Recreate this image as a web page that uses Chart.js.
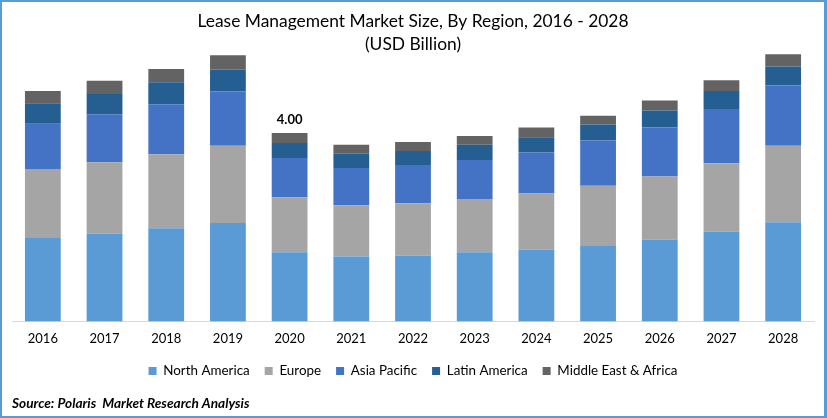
<!DOCTYPE html>
<html>
<head>
<meta charset="utf-8">
<script src="https://cdn.jsdelivr.net/npm/chart.js@4"></script>
<style>
html, body { margin: 0; padding: 0; background: #fff; }
#wrap { position: relative; width: 827px; height: 418px; overflow: hidden; }
#frame { position: absolute; inset: 0; border: solid #5b9bd5; border-width: 2px 3px 2px 2px; box-sizing: border-box; pointer-events: none; }
</style>
</head>
<body>
<div id="wrap">
<canvas id="myChart" width="827" height="418"></canvas>
<div id="frame"></div>
</div>
<script>
var years = ['2016','2017','2018','2019','2020','2021','2022','2023','2024','2025','2026','2027','2028'];
var northAmerica = [1.79,1.87,1.98,2.09,1.47,1.38,1.40,1.47,1.53,1.62,1.74,1.91,2.11];
var europe = [1.45,1.51,1.57,1.64,1.17,1.09,1.11,1.13,1.19,1.26,1.34,1.45,1.62];
var asiaPacific = [0.96,1.02,1.06,1.15,0.83,0.79,0.81,0.83,0.87,0.96,1.04,1.15,1.28];
var latinAmerica = [0.43,0.43,0.47,0.47,0.32,0.30,0.30,0.32,0.32,0.34,0.36,0.38,0.40];
var middleEast = [0.26,0.28,0.28,0.30,0.21,0.19,0.19,0.19,0.21,0.19,0.21,0.23,0.26];
var labelYear = '2020';
var labelText = '4.00';

var fontName = 'Lato, Carlito, sans-serif';

// the one value label above the 2020 bar
var totalLabel = {
    id: 'totalLabel',
    afterDatasetsDraw: function(chart) {
        var ctx = chart.ctx;
        var idx = years.indexOf(labelYear);
        var bar = chart.getDatasetMeta(4).data[idx];
        ctx.save();
        ctx.font = 'bold 13px ' + fontName;
        ctx.fillStyle = '#000';
        ctx.textAlign = 'center';
        ctx.textBaseline = 'bottom';
        ctx.fillText(labelText, bar.x, bar.y - 7);
        ctx.restore();
    }
};

function series(label, values, color) {
    return { label: label, data: values, backgroundColor: color, barPercentage: 0.58, categoryPercentage: 1 };
}

var chart = new Chart(document.getElementById('myChart').getContext('2d'), {
    type: 'bar',
    plugins: [totalLabel],
    data: {
        labels: years,
        datasets: [
            series('North America', northAmerica, '#5b9bd5'),
            series('Europe', europe, '#a5a5a5'),
            series('Asia Pacific', asiaPacific, '#4472c4'),
            series('Latin America', latinAmerica, '#255e91'),
            series('Middle East & Africa', middleEast, '#636363')
        ]
    },
    options: {
        responsive: false,
        animation: false,
        layout: { padding: { left: 12, right: 13, top: 0, bottom: 6 } },
        scales: {
            x: {
                stacked: true,
                grid: { display: false, drawTicks: false },
                border: { color: '#d9d9d9', width: 1 },
                ticks: { color: '#000', font: { family: fontName, size: 13 }, padding: 9, maxRotation: 0 },
                // legend sits closer to the axis than the default box allows
                afterFit: function(scale) { scale.height -= 6; }
            },
            y: { stacked: true, display: false, min: 0, max: 5.7 }
        },
        plugins: {
            title: {
                display: true,
                text: ['Lease Management Market Size, By Region, 2016 - 2028', '(USD Billion)'],
                color: '#000',
                font: { family: fontName, size: 17.4, weight: 'normal', lineHeight: 1.32 },
                padding: { top: 10, bottom: -3 }
            },
            subtitle: {
                display: true,
                position: 'bottom',
                align: 'start',
                text: 'Source: Polaris  Market Research Analysis',
                color: '#000',
                font: { family: fontName, size: 13.65, weight: 'bold', style: 'italic' },
                padding: { top: 8, bottom: 0 }
            },
            legend: {
                position: 'bottom',
                labels: {
                    color: '#000',
                    font: { family: fontName, size: 13.4 },
                    boxWidth: 8,
                    boxHeight: 8,
                    padding: 15
                }
            },
            tooltip: { enabled: false }
        }
    }
});
</script>
</body>
</html>
